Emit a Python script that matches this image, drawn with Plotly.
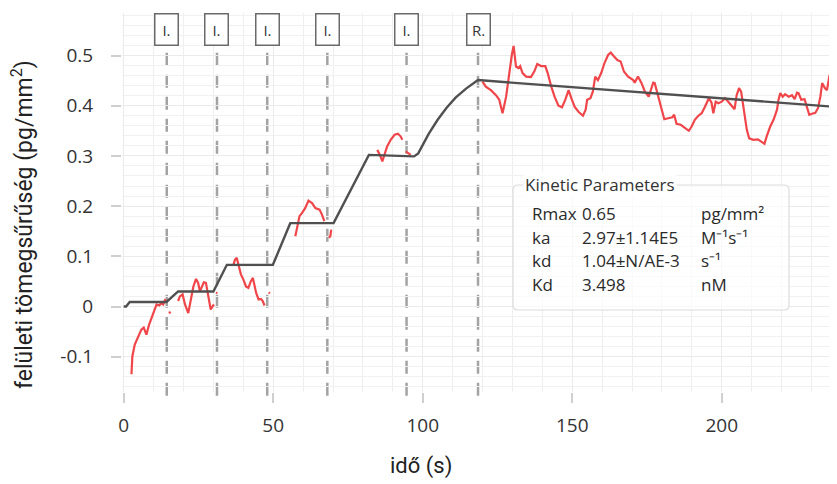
import plotly.graph_objects as go

# ---------------- data ----------------
# measured signal (red), in separate pieces
seg1_x = [2.6, 2.9, 3.7, 4.8, 5.9, 6.7, 7.6, 8.5, 9.3, 10.4, 11.0, 11.9, 12.6, 13.2, 14.0]
seg1_y = [-0.135, -0.099, -0.076, -0.059, -0.046, -0.042, -0.056, -0.036, -0.022, -0.006, 0.004, 0.002, 0.007, 0.004, 0.015]
seg2_x = [18.2, 18.8, 19.7, 20.5, 21.6, 22.4, 23.3, 24.2, 24.9, 25.5, 26.1, 26.8, 27.5, 28.0, 28.6, 29.1, 29.8, 30.2]
seg2_y = [0.011, 0.020, 0.024, 0.004, -0.013, 0.014, 0.040, 0.055, 0.047, 0.030, 0.040, 0.048, 0.047, 0.030, 0.014, -0.006, 0.001, 0.004]
seg3_x = [36.7, 37.2, 37.8, 38.4, 39.2, 40.0, 40.9, 41.7, 42.5, 43.2, 43.6, 44.3, 45.1, 45.9, 46.5, 47.1]
seg3_y = [0.083, 0.093, 0.097, 0.080, 0.064, 0.054, 0.040, 0.037, 0.050, 0.057, 0.047, 0.027, 0.014, 0.015, 0.011, 0.002]
seg4_x = [57.4, 58.0, 58.8, 59.6, 60.7, 61.8, 63.0, 64.1, 65.5, 66.3, 67.1]
seg4_y = [0.140, 0.160, 0.180, 0.186, 0.196, 0.211, 0.206, 0.196, 0.193, 0.183, 0.170]
seg4b_x = [68.6, 69.1, 69.4]
seg4b_y = [0.137, 0.140, 0.153]
seg5_x = [84.8, 85.7, 86.5, 87.2, 88.1, 89.3, 90.6, 91.7, 92.6, 93.2]
seg5_y = [0.312, 0.302, 0.289, 0.302, 0.319, 0.332, 0.342, 0.344, 0.339, 0.332]
seg5b_x = [94.3, 95.1, 96.0]
seg5b_y = [0.309, 0.305, 0.302]
dots_x = [[15.2, 15.6], [30.9, 31.3], [48.5, 48.9]]
dots_y = [[-0.010, -0.014], [0.028, 0.026], [0.028, 0.026]]
seg6_x = [120.0, 121.1, 122.8, 124.5, 125.6, 126.7, 127.9, 129.0, 129.8, 130.4, 131.2, 132.0, 132.6, 133.4,
          134.6, 136.2, 137.3, 138.3, 139.6, 141.0, 141.8, 143.0, 144.1, 145.4, 146.6, 147.7, 148.8, 149.7,
          150.8, 152.1, 153.6, 154.5, 155.0, 156.1, 156.9, 157.7, 158.6, 159.7, 160.8, 162.0, 162.9, 164.0,
          165.1, 166.2, 167.3, 168.7, 170.4, 170.9, 172.0, 173.2, 174.3, 175.6, 177.1, 177.6, 178.5, 179.6,
          180.8, 182.1, 183.5, 184.1, 184.9, 186.3, 187.7, 189.0, 189.9, 191.0, 192.2, 193.3, 194.4, 195.7,
          196.6, 197.2, 198.0, 198.9, 200.0, 201.1, 202.2, 203.4, 204.3, 205.0, 205.8, 206.5, 207.3, 208.4,
          209.2, 210.6, 212.1, 213.4, 214.3, 215.1, 216.2, 217.4, 218.5, 219.0, 219.6, 220.4, 221.2, 222.4,
          223.5, 224.4, 225.2, 225.7, 226.6, 227.7, 228.5, 229.3, 230.2, 231.3, 232.2, 233.0, 233.6, 234.5,
          235.2, 236.0, 236.9, 237.5, 238.3, 239.3]
seg6_y = [0.448, 0.438, 0.431, 0.421, 0.412, 0.385, 0.418, 0.471, 0.501, 0.519, 0.478, 0.475, 0.479, 0.465,
          0.458, 0.457, 0.468, 0.483, 0.479, 0.479, 0.465, 0.438, 0.418, 0.400, 0.397, 0.412, 0.431, 0.415,
          0.398, 0.388, 0.380, 0.392, 0.412, 0.415, 0.428, 0.458, 0.451, 0.465, 0.485, 0.501, 0.506, 0.498,
          0.491, 0.488, 0.468, 0.458, 0.451, 0.446, 0.458, 0.445, 0.428, 0.418, 0.446, 0.445, 0.425, 0.398,
          0.373, 0.375, 0.377, 0.382, 0.364, 0.362, 0.355, 0.350, 0.358, 0.372, 0.380, 0.385, 0.398, 0.415,
          0.406, 0.385, 0.408, 0.405, 0.408, 0.415, 0.408, 0.398, 0.393, 0.421, 0.435, 0.428, 0.392, 0.352,
          0.335, 0.332, 0.333, 0.327, 0.324, 0.340, 0.358, 0.373, 0.392, 0.412, 0.425, 0.418, 0.423, 0.418,
          0.421, 0.413, 0.426, 0.425, 0.412, 0.413, 0.398, 0.382, 0.384, 0.386, 0.395, 0.418, 0.445, 0.435,
          0.431, 0.458, 0.478, 0.485, 0.468, 0.468]

# fitted model (dark grey)
fit_x = [0, 0.8, 2.0, 14.3, 18.2, 30.0, 34.5, 49.9, 55.7, 70.2, 82.0, 97.1,
         98.5, 100.0, 102.0, 105.0, 108.0, 111.0, 114.5, 118.5, 242.0]
fit_y = [0, 0, 0.009, 0.009, 0.030, 0.030, 0.083, 0.083, 0.166, 0.166, 0.302, 0.299,
         0.305, 0.321, 0.344, 0.372, 0.396, 0.416, 0.434, 0.451, 0.396]

# injection markers
marker_x = [14.4, 31.2, 48.0, 68.1, 94.6, 118.5]
marker_lbl = ["I.", "I.", "I.", "I.", "I.", "R."]

# axis ticks
x_ticks = [0, 50, 100, 150, 200]
y_ticks = [-0.1, 0, 0.1, 0.2, 0.3, 0.4, 0.5]
y_ticktext = ["-0.1", "0", "0.1", "0.2", "0.3", "0.4", "0.5"]

# kinetic parameters table
kp_names = ["Rmax", "ka", "kd", "Kd"]
kp_values = ["0.65", "2.97±1.14E5", "1.04±N/AE-3", "3.498"]
kp_units = ["pg/mm²", "M⁻¹s⁻¹", "s⁻¹", "nM"]

# ---------------- layout helpers (screen pixel -> paper) ----------------
# the page body adds an 8 px offset, so the figure sits at (8, 8) on screen
OFF = 8
W, H = 837, 484
L, R, T, B = 114, 0, 5, 100
PW, PH = W - L - R, H - T - B


def px(xs):
    return (xs - OFF - L) / PW


def py(ys):
    return (H - B - (ys - OFF)) / PH


RED = "#f0464a"
FIT = "#505050"

fig = go.Figure()
red_segments = [(seg1_x, seg1_y), (seg2_x, seg2_y), (seg3_x, seg3_y), (seg4_x, seg4_y),
                (seg4b_x, seg4b_y), (seg5_x, seg5_y), (seg5b_x, seg5b_y), (seg6_x, seg6_y)]
red_segments += list(zip(dots_x, dots_y))
for sx, sy in red_segments:
    fig.add_trace(go.Scatter(x=sx, y=sy, mode="lines", line=dict(color=RED, width=2.2),
                             hoverinfo="skip", showlegend=False))
fig.add_trace(go.Scatter(x=fit_x, y=fit_y, mode="lines", line=dict(color=FIT, width=2.4),
                         hoverinfo="skip", showlegend=False))

shapes = []
annotations = []
# dashed injection lines + labelled boxes
for mx, lbl in zip(marker_x, marker_lbl):
    shapes.append(dict(type="line", xref="x", yref="paper", x0=mx, x1=mx, y0=-0.01, y1=py(46),
                       line=dict(color="#a3a3a3", width=2.5, dash="13px,9px"), layer="below"))
    annotations.append(dict(xref="x", yref="paper", x=mx, y=py(30), xanchor="center",
                            yanchor="middle", text=lbl, showarrow=False,
                            font=dict(family="Open Sans", size=15, color="#333333"),
                            bgcolor="white", bordercolor="#6a6a6a", borderwidth=1.5,
                            width=20, height=28, borderpad=1, align="center", valign="middle"))

# kinetic parameters group box (rounded)
bx0, bx1, by0, by1, rr = 513, 789, 185, 310, 5
rx, ry = rr / PW, rr / PH
X0, X1, Y0, Y1 = px(bx0), px(bx1), py(by1), py(by0)
path = (f"M {X0+rx},{Y0} L {X1-rx},{Y0} Q {X1},{Y0} {X1},{Y0+ry} L {X1},{Y1-ry} "
        f"Q {X1},{Y1} {X1-rx},{Y1} L {X0+rx},{Y1} Q {X0},{Y1} {X0},{Y1-ry} "
        f"L {X0},{Y0+ry} Q {X0},{Y0} {X0+rx},{Y0} Z")
shapes.append(dict(type="path", xref="paper", yref="paper", path=path,
                   fillcolor="rgba(255,255,255,0.65)", line=dict(color="#dcdcdc", width=1.2)))
annotations.append(dict(xref="paper", yref="paper", x=px(523), y=py(185), xanchor="left",
                        yanchor="middle", text="Kinetic Parameters", showarrow=False,
                        bgcolor="white", borderpad=1,
                        font=dict(family="Open Sans", size=17, color="#333333")))
row_y = [213, 237, 260, 284]
for name, val, unit, ry_ in zip(kp_names, kp_values, kp_units, row_y):
    for txt, xx in ((name, 530), (val, 580), (unit, 699)):
        annotations.append(dict(xref="paper", yref="paper", x=px(xx), y=py(ry_), xanchor="left",
                                yanchor="middle", text=txt, showarrow=False,
                                font=dict(family="Open Sans", size=17, color="#2a2a2a")))

# axis titles
annotations.append(dict(xref="paper", yref="paper", x=px(421), y=py(466), text="idő (s)",
                        showarrow=False, xanchor="center", yanchor="middle",
                        font=dict(family="Roboto", size=22, color="#222222")))
annotations.append(dict(xref="paper", yref="paper", x=px(22), y=py(225),
                        text="felületi tömegsűrűség (pg/mm<sup>2</sup>)", textangle=-90,
                        showarrow=False, xanchor="center", yanchor="middle",
                        font=dict(family="Roboto", size=23, color="#222222")))

# axis ranges from screen calibration: x 0 -> 123.7 px, 2.99 px/unit; y 0 -> 306.5 px, 502 px/unit
x_lo = (OFF + L - 123.7) / 2.99
x_hi = (OFF + W - R - 123.7) / 2.99
y_lo = (306.5 - (OFF + H - B)) / 502.0
y_hi = (306.5 - (OFF + T)) / 502.0

fig.update_layout(
    width=W, height=H,
    margin=dict(l=L, r=R, t=T, b=B, autoexpand=False),
    paper_bgcolor="white", plot_bgcolor="white",
    shapes=shapes, annotations=annotations, showlegend=False,
    xaxis=dict(range=[x_lo, x_hi], tickvals=x_ticks, showgrid=True, gridcolor="#ebebeb",
               gridwidth=1, zeroline=False, showline=False, ticks="outside", ticklen=10,
               tickwidth=1.5, tickcolor="#cfcfcf", ticklabelstandoff=6, automargin=False,
               tickfont=dict(family="Open Sans", size=19, color="#333333"),
               minor=dict(dtick=10, tick0=0, showgrid=True, gridcolor="#efefef", gridwidth=1)),
    yaxis=dict(range=[y_lo, y_hi], tickvals=y_ticks, ticktext=y_ticktext, showgrid=True,
               gridcolor="#ebebeb", gridwidth=1, zeroline=False, showline=False,
               ticks="outside", ticklen=10, tickwidth=1.5, tickcolor="#cfcfcf",
               ticklabelstandoff=14, automargin=False,
               tickfont=dict(family="Open Sans", size=19, color="#333333"),
               minor=dict(dtick=0.02, tick0=0, showgrid=True, gridcolor="#f1f1f1", gridwidth=1)),
)

fig.write_html("out.html")
